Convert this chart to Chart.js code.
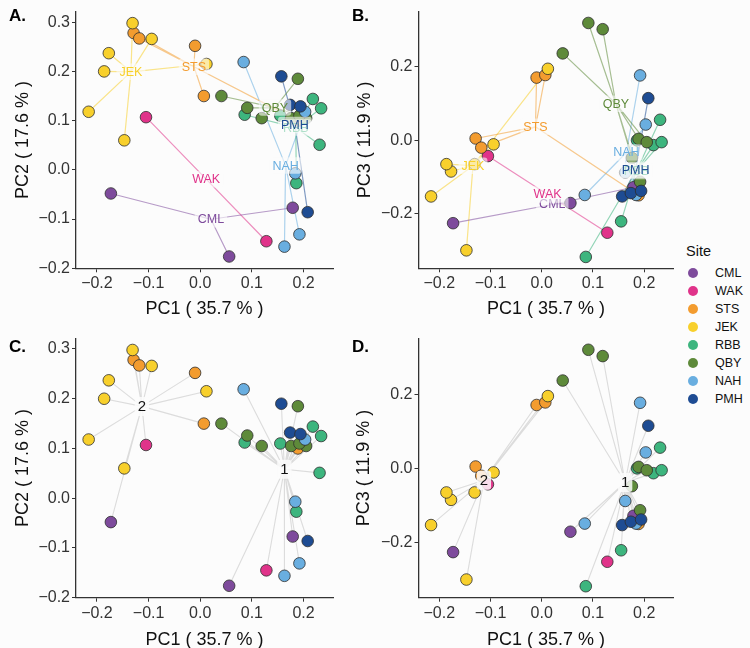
<!DOCTYPE html>
<html>
<head>
<meta charset="utf-8">
<script src="https://cdn.jsdelivr.net/npm/chart.js@4.4.1/dist/chart.umd.min.js"></script>
<style>
  body { margin: 0; background: #fcfcfc; font-family: "Liberation Sans", Arial, sans-serif; }
  #wrap { position: relative; width: 750px; height: 648px; overflow: hidden; }
  #wrap canvas { position: absolute; }
  .tag { position: absolute; font-weight: bold; font-size: 17px; line-height: 17px; color: #000; }
  #legend { position: absolute; left: 686px; top: 242px; color: #111; }
  #legend .ttl { font-size: 14.5px; line-height: 18px; height: 22px; }
  #legend .it { position: relative; height: 18px; line-height: 18px; font-size: 12.5px; padding-left: 29px; }
  #legend .dot { position: absolute; left: 2px; top: 4px; width: 10px; height: 10px; border-radius: 50%; }
</style>
</head>
<body>
<div id="wrap">
  <canvas id="pa" width="340" height="320" style="left:0px;top:0px"></canvas>
  <canvas id="pb" width="340" height="320" style="left:340px;top:0px"></canvas>
  <canvas id="pc" width="340" height="331" style="left:0px;top:320px"></canvas>
  <canvas id="pd" width="340" height="331" style="left:340px;top:320px"></canvas>
  <div class="tag" style="left:9px;top:7px">A.</div>
  <div class="tag" style="left:352px;top:7px">B.</div>
  <div class="tag" style="left:9px;top:338px">C.</div>
  <div class="tag" style="left:352px;top:338px">D.</div>
  <div id="legend"></div>
</div>
<script>
// sites and colours
const sites = ['CML', 'WAK', 'STS', 'JEK', 'RBB', 'QBY', 'NAH', 'PMH'];
const siteColors = ['#7e4b9c', '#e0338a', '#f39c2f', '#f8d02c', '#3db57e', '#5e8a3a', '#69aee0', '#1e4c93'];

// one entry per individual
const sampleSite = ['CML', 'CML', 'CML', 'WAK', 'WAK',
  'STS', 'STS', 'STS', 'STS', 'STS',
  'JEK', 'JEK', 'JEK', 'JEK', 'JEK', 'JEK', 'JEK',
  'RBB', 'RBB', 'RBB', 'RBB', 'RBB', 'RBB',
  'QBY', 'QBY', 'QBY', 'QBY', 'QBY', 'QBY', 'QBY',
  'NAH', 'NAH', 'NAH', 'NAH', 'NAH',
  'PMH', 'PMH', 'PMH', 'PMH'];
const pc1 = [-0.173, 0.179, 0.056, -0.105, 0.128,
  -0.129, -0.118, -0.010, 0.007, 0.189,
  -0.131, -0.094, -0.177, -0.186, -0.216, -0.147, 0.012,
  0.086, 0.155, 0.186, 0.218, 0.234, 0.231,
  0.041, 0.091, 0.119, 0.189, 0.176, 0.205, 0.192,
  0.084, 0.163, 0.184, 0.192, 0.203,
  0.157, 0.174, 0.194, 0.208];
const pc2 = [-0.048, -0.077, -0.176, 0.107, -0.145,
  0.278, 0.267, 0.252, 0.150, 0.100,
  0.298, 0.266, 0.237, 0.200, 0.118, 0.060, 0.215,
  0.112, 0.110, -0.027, 0.144, 0.125, 0.051,
  0.150, 0.126, 0.105, 0.185, 0.105, 0.105, 0.110,
  0.219, -0.156, -0.007, -0.131, 0.118,
  0.190, 0.132, 0.129, -0.086];
const pc3 = [-0.226, -0.128, -0.171, -0.043, -0.252,
  0.005, -0.020, 0.171, 0.178, -0.150,
  -0.065, -0.011, -0.085, -0.065, -0.153, -0.300, 0.195,
  -0.318, -0.221, 0.000, -0.013, -0.005, 0.056,
  0.237, 0.320, 0.303, 0.004, -0.048, -0.005, -0.113,
  -0.149, -0.088, -0.149, 0.177, 0.043,
  -0.153, -0.144, -0.138, 0.115];
const cluster = [2, 1, 1, 2, 1,
  2, 2, 2, 2, 1,
  2, 2, 2, 2, 2, 2, 2,
  1, 1, 1, 1, 1, 1,
  1, 1, 1, 1, 1, 1, 1,
  1, 1, 1, 1, 1,
  1, 1, 1, 1];
const clusters = [1, 2];

// tick labels
const pc1Ticks = [-0.2, -0.1, 0, 0.1, 0.2];
const pc2Ticks = [-0.2, -0.1, 0, 0.1, 0.2, 0.3];
const pc3Ticks = [-0.2, 0, 0.2];

Chart.defaults.font.family = '"Liberation Sans", Arial, sans-serif';

function fmt(v) {
  if (Math.abs(v) < 1e-9) return '0.0';
  return (v < 0 ? '\u2212' : '') + Math.abs(v).toFixed(1);
}
function mean(a) { return a.reduce((s, v) => s + v, 0) / a.length; }
function rgba(hex, a) {
  const n = parseInt(hex.slice(1), 16);
  return 'rgba(' + (n >> 16) + ',' + ((n >> 8) & 255) + ',' + (n & 255) + ',' + a + ')';
}

// labels at group centroids, drawn on top of everything
const groupLabels = {
  id: 'groupLabels',
  afterDatasetsDraw(chart, args, opts) {
    const ctx = chart.ctx, x = chart.scales.x, y = chart.scales.y;
    ctx.save();
    ctx.font = opts.size + 'px "Liberation Sans", Arial, sans-serif';
    ctx.textAlign = 'center';
    ctx.textBaseline = 'middle';
    opts.items.forEach(it => {
      const px = x.getPixelForValue(it.x), py = y.getPixelForValue(it.y);
      const w = ctx.measureText(it.text).width + 6, h = opts.size + 4;
      ctx.fillStyle = opts.fill;
      ctx.beginPath();
      ctx.roundRect(px - w / 2, py - h / 2, w, h, 3);
      ctx.fill();
      ctx.fillStyle = it.color;
      ctx.fillText(it.text, px, py + 0.5);
    });
    ctx.restore();
  }
};

const panels = [
  { id: 'pa', w: 340, h: 320, plotL: 76, plotR: 333, plotT: 8.3, plotB: 268.3, ys: pc2, ymin: -0.2, ymax: 0.3215, yt: pc2Ticks, ytitle: 'PC2 ( 17.6 % )', tpad: 12, by: 'site' },
  { id: 'pb', w: 340, h: 320, plotL: 78.5, plotR: 335.3, plotT: 8.3, plotB: 268.3, ys: pc3, ymin: -0.349, ymax: 0.351, yt: pc3Ticks, ytitle: 'PC3 ( 11.9 % )', tpad: 14, by: 'site' },
  { id: 'pc', w: 340, h: 331, plotL: 76, plotR: 333, plotT: 18.3, plotB: 277.7, ys: pc2, ymin: -0.2, ymax: 0.3215, yt: pc2Ticks, ytitle: 'PC2 ( 17.6 % )', tpad: 12, by: 'cluster' },
  { id: 'pd', w: 340, h: 331, plotL: 78.5, plotR: 335.3, plotT: 18.3, plotB: 277.7, ys: pc3, ymin: -0.349, ymax: 0.351, yt: pc3Ticks, ytitle: 'PC3 ( 11.9 % )', tpad: 13, by: 'cluster' }
];

panels.forEach(p => {
  const ys = p.ys;
  const groups = p.by === 'site' ? sites : clusters;
  const groupOf = p.by === 'site' ? sampleSite : cluster;
  const lineSets = [];
  const labels = [];
  groups.forEach((g, gi) => {
    const idx = groupOf.map((v, i) => i).filter(i => groupOf[i] === g);
    const cx = mean(idx.map(i => pc1[i])), cy = mean(idx.map(i => ys[i]));
    const d = [];
    idx.forEach(i => { d.push({ x: cx, y: cy }, { x: pc1[i], y: ys[i] }, { x: pc1[i], y: null }); });
    const col = p.by === 'site' ? rgba(siteColors[gi], 0.55) : 'rgba(160,160,160,0.35)';
    lineSets.push({ data: d, showLine: true, spanGaps: false, borderColor: col, borderWidth: p.by === 'site' ? 1.2 : 1.1, pointRadius: 0, order: 2 });
    labels.push({ x: cx, y: cy, text: String(g), color: p.by === 'site' ? siteColors[gi] : '#111' });
  });
  const points = {
    data: pc1.map((v, i) => ({ x: v, y: ys[i] })),
    backgroundColor: sampleSite.map(s => siteColors[sites.indexOf(s)]),
    borderColor: '#2d2d2d', borderWidth: 0.8, pointRadius: 5.8, order: 1
  };
  const axisGrid = { display: true, drawOnChartArea: false, drawTicks: true, tickLength: 4, color: '#333', lineWidth: 1 };
  const axisBorder = { display: true, color: '#333', width: 1.3 };
  new Chart(document.getElementById(p.id), {
    type: 'scatter',
    data: { datasets: [points].concat(lineSets) },
    plugins: [groupLabels],
    options: {
      responsive: false, animation: false, devicePixelRatio: 1,
      layout: { padding: { top: p.plotT, right: p.w - p.plotR, left: 0, bottom: 0 } },
      plugins: {
        legend: { display: false }, tooltip: { enabled: false },
        groupLabels: { items: labels, size: p.by === 'site' ? 12.5 : 15, fill: p.by === 'site' ? 'rgba(252,252,252,0.6)' : 'rgba(252,252,252,0.85)' }
      },
      scales: {
        x: {
          type: 'linear', min: -0.2405, max: 0.257,
          afterBuildTicks: s => { s.ticks = pc1Ticks.map(v => ({ value: v })); },
          afterFit: s => { s.height = p.h - p.plotB; },
          ticks: { callback: fmt, font: { size: 16 }, color: '#333', padding: 2, autoSkip: false, maxRotation: 0 },
          grid: axisGrid, border: axisBorder,
          title: { display: true, text: 'PC1 ( 35.7 % )', font: { size: 18 }, color: '#111', padding: { top: 0, bottom: 0 } }
        },
        y: {
          type: 'linear', min: p.ymin, max: p.ymax,
          afterBuildTicks: s => { s.ticks = p.yt.map(v => ({ value: v })); },
          afterFit: s => { s.width = p.plotL; },
          ticks: { callback: fmt, font: { size: 16 }, color: '#333', padding: 2, autoSkip: false },
          grid: axisGrid, border: axisBorder,
          title: { display: true, text: p.ytitle, font: { size: 18 }, color: '#111', padding: { top: p.tpad, bottom: 0 } }
        }
      }
    }
  });
});

// legend
const leg = document.getElementById('legend');
leg.innerHTML = '<div class="ttl">Site</div>' + sites.map((s, i) =>
  '<div class="it"><span class="dot" style="background:' + siteColors[i] + '"></span>' + s + '</div>').join('');
</script>
</body>
</html>
